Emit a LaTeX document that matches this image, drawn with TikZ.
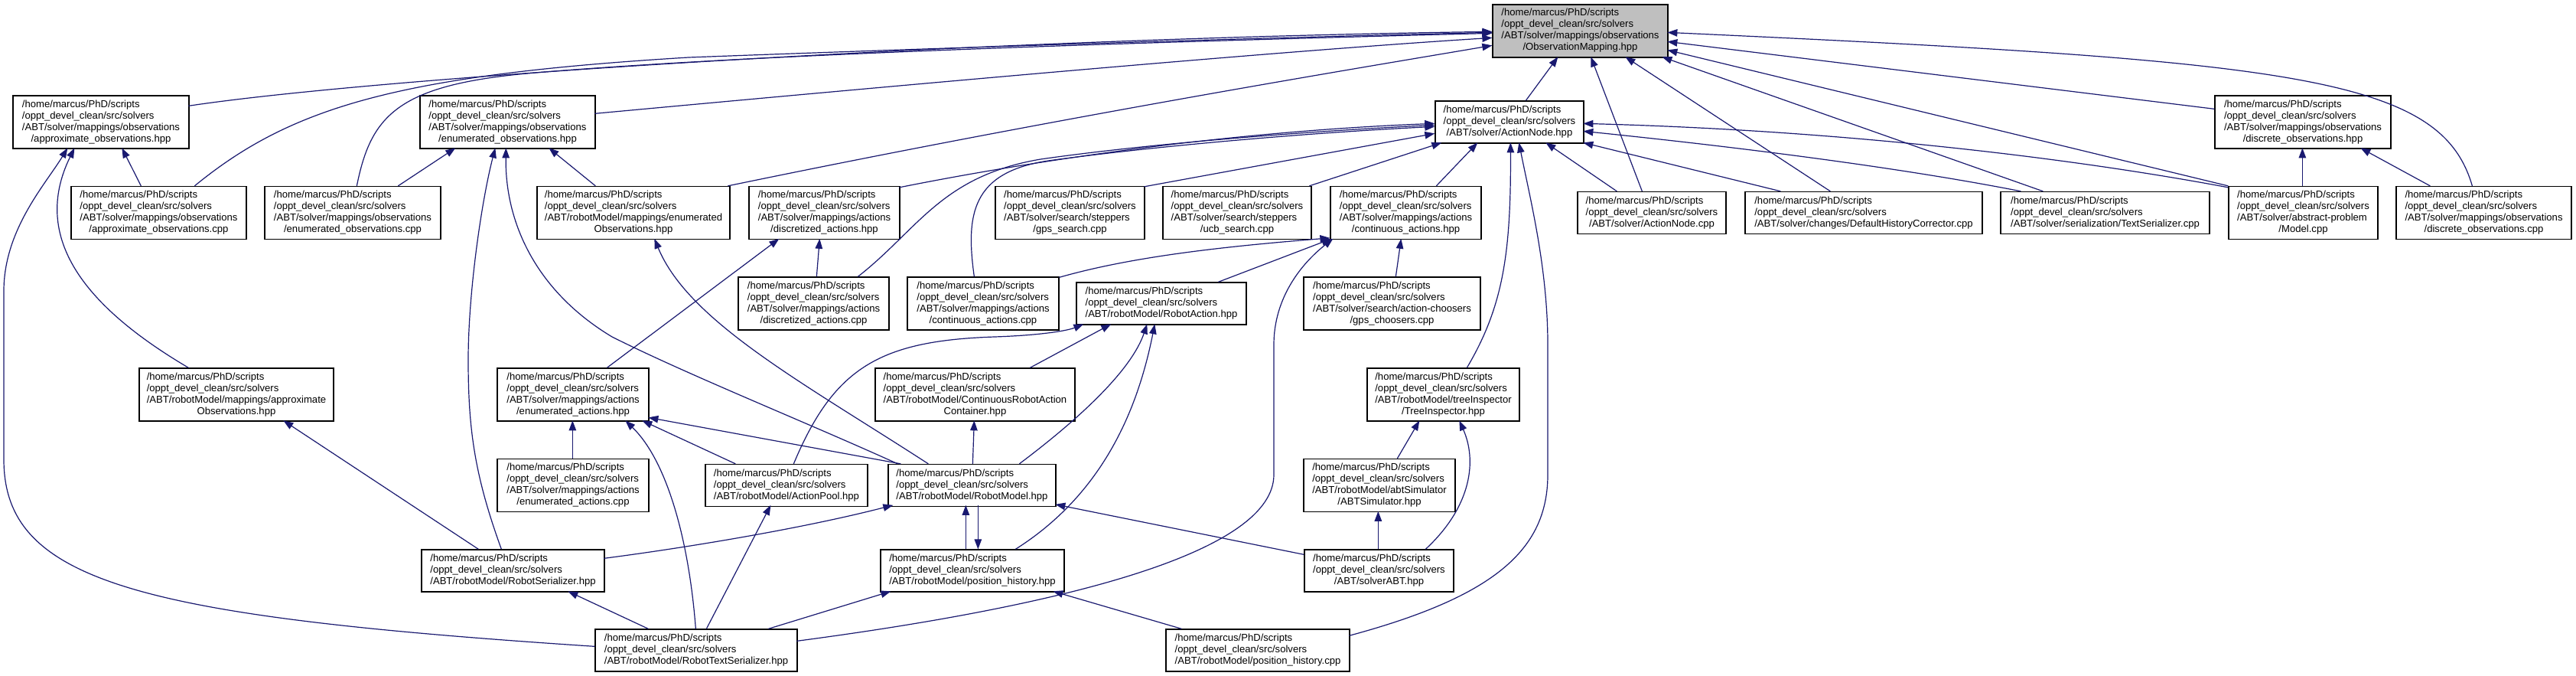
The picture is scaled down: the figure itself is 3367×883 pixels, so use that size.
\documentclass[tikz,border=0pt]{standalone}
\usepackage{fontspec}
\setmainfont{Liberation Sans}
\usetikzlibrary{calc,arrows.meta}
\definecolor{mblue}{HTML}{191970}
\definecolor{omgray}{HTML}{BFBFBF}
\newcommand{\nlbl}[2]{\begin{tabular}{@{}l@{}}#1\\\multicolumn{1}{@{}c@{}}{#2}\end{tabular}}
\newcommand{\hmp}{/home/marcus/PhD/scripts\\/oppt\_devel\_clean/src/solvers}
\tikzset{
 box/.style={draw=black, line width=1.3pt, fill=white, inner sep=0pt, font=\fontsize{13.1}{15}\selectfont},
 e/.style={draw=mblue, line width=1.2pt, -{Triangle[length=13pt,width=9.5pt]}},
}
\begin{document}
\begin{tikzpicture}[x=1pt,y=-1pt]
\fill[white] (0,0) rectangle (3367,883);
\useasboundingbox (0,0) rectangle (3367,883);
% row 1
\node[box,fill=omgray,minimum width=229pt,minimum height=69pt] (OM) at (2065.5,40.5) {\nlbl{\hmp\\/ABT/solver/mappings/observations}{/ObservationMapping.hpp}};
% row 2
\node[box,minimum width=230pt,minimum height=69pt] (AOh) at (132,159.5) {\nlbl{\hmp\\/ABT/solver/mappings/observations}{/approximate\_observations.hpp}};
\node[box,minimum width=229pt,minimum height=69pt] (EOh) at (663.5,159.5) {\nlbl{\hmp\\/ABT/solver/mappings/observations}{/enumerated\_observations.hpp}};
\node[box,minimum width=194pt,minimum height=55pt] (AN) at (1973,159.5) {\nlbl{\hmp}{/ABT/solver/ActionNode.hpp}};
\node[box,minimum width=230pt,minimum height=69pt] (DOh) at (3010,159.5) {\nlbl{\hmp\\/ABT/solver/mappings/observations}{/discrete\_observations.hpp}};
% row 3
\node[box,minimum width=229pt,minimum height=69pt] (AOc) at (207.5,278) {\nlbl{\hmp\\/ABT/solver/mappings/observations}{/approximate\_observations.cpp}};
\node[box,minimum width=230pt,minimum height=69pt] (EOc) at (461,278) {\nlbl{\hmp\\/ABT/solver/mappings/observations}{/enumerated\_observations.cpp}};
\node[box,minimum width=252pt,minimum height=69pt] (EORM) at (828,278) {\nlbl{\hmp\\/ABT/robotModel/mappings/enumerated}{Observations.hpp}};
\node[box,minimum width=197pt,minimum height=69pt] (DAh) at (1077.5,278) {\nlbl{\hmp\\/ABT/solver/mappings/actions}{/discretized\_actions.hpp}};
\node[box,minimum width=195pt,minimum height=69pt] (GS) at (1398.5,278) {\nlbl{\hmp\\/ABT/solver/search/steppers}{/gps\_search.cpp}};
\node[box,minimum width=194pt,minimum height=69pt] (UCB) at (1617,278) {\nlbl{\hmp\\/ABT/solver/search/steppers}{/ucb\_search.cpp}};
\node[box,minimum width=197pt,minimum height=69pt] (CA) at (1837.5,278) {\nlbl{\hmp\\/ABT/solver/mappings/actions}{/continuous\_actions.hpp}};
\node[box,minimum width=194pt,minimum height=55pt] (ANc) at (2159,278) {\nlbl{\hmp}{/ABT/solver/ActionNode.cpp}};
\node[box,minimum width=310pt,minimum height=55pt] (DHC) at (2436,278) {\nlbl{\hmp}{/ABT/solver/changes/DefaultHistoryCorrector.cpp}};
\node[box,minimum width=273pt,minimum height=55pt] (TS) at (2751.5,278) {\nlbl{\hmp}{/ABT/solver/serialization/TextSerializer.cpp}};
\node[box,minimum width=195pt,minimum height=69pt] (MC) at (3010.5,278) {\nlbl{\hmp\\/ABT/solver/abstract-problem}{/Model.cpp}};
\node[box,minimum width=229pt,minimum height=69pt] (DOc) at (3246.5,278) {\nlbl{\hmp\\/ABT/solver/mappings/observations}{/discrete\_observations.cpp}};
% row 4
\node[box,minimum width=197pt,minimum height=69pt] (DAc) at (1063.5,396.5) {\nlbl{\hmp\\/ABT/solver/mappings/actions}{/discretized\_actions.cpp}};
\node[box,minimum width=198pt,minimum height=69pt] (CAc) at (1285,396.5) {\nlbl{\hmp\\/ABT/solver/mappings/actions}{/continuous\_actions.cpp}};
\node[box,minimum width=222pt,minimum height=55pt] (RA) at (1518,396.5) {\nlbl{\hmp}{/ABT/robotModel/RobotAction.hpp}};
\node[box,minimum width=231pt,minimum height=69pt] (GC) at (1819.5,396.5) {\nlbl{\hmp\\/ABT/solver/search/action-choosers}{/gps\_choosers.cpp}};
% row 5
\node[box,minimum width=254pt,minimum height=69pt] (AORM) at (309,515.5) {\nlbl{\hmp\\/ABT/robotModel/mappings/approximate}{Observations.hpp}};
\node[box,minimum width=198pt,minimum height=69pt] (EAh) at (749,515.5) {\nlbl{\hmp\\/ABT/solver/mappings/actions}{/enumerated\_actions.hpp}};
\node[box,minimum width=261pt,minimum height=69pt] (CRAC) at (1274.5,515.5) {\nlbl{\hmp\\/ABT/robotModel/ContinuousRobotAction}{Container.hpp}};
\node[box,minimum width=199pt,minimum height=69pt] (TI) at (1886.5,515.5) {\nlbl{\hmp\\/ABT/robotModel/treeInspector}{/TreeInspector.hpp}};
% row 6
\node[box,minimum width=198pt,minimum height=69pt] (EAc) at (749,634) {\nlbl{\hmp\\/ABT/solver/mappings/actions}{/enumerated\_actions.cpp}};
\node[box,minimum width=212pt,minimum height=55pt] (AP) at (1028,634) {\nlbl{\hmp}{/ABT/robotModel/ActionPool.hpp}};
\node[box,minimum width=219pt,minimum height=55pt] (RM) at (1270.5,634) {\nlbl{\hmp}{/ABT/robotModel/RobotModel.hpp}};
\node[box,minimum width=198pt,minimum height=69pt] (ABTS) at (1803,634) {\nlbl{\hmp\\/ABT/robotModel/abtSimulator}{/ABTSimulator.hpp}};
% row 7
\node[box,minimum width=239pt,minimum height=55pt] (RS) at (670.5,745.5) {\nlbl{\hmp}{/ABT/robotModel/RobotSerializer.hpp}};
\node[box,minimum width=240pt,minimum height=55pt] (PH) at (1271,745.5) {\nlbl{\hmp}{/ABT/robotModel/position\_history.hpp}};
\node[box,minimum width=195pt,minimum height=55pt] (SA) at (1802.5,745.5) {\nlbl{\hmp}{/ABT/solverABT.hpp}};
% row 8
\node[box,minimum width=264pt,minimum height=55pt] (RTS) at (910,849.5) {\nlbl{\hmp}{/ABT/robotModel/RobotTextSerializer.hpp}};
\node[box,minimum width=240pt,minimum height=55pt] (PHc) at (1644,849.5) {\nlbl{\hmp}{/ABT/robotModel/position\_history.cpp}};

% ---- edges to ObservationMapping
\draw[e] ($(AOh.north west)+(230,14)$) .. controls (500,100) and (1300,50) .. ($(OM.north west)+(0,36)$);
\draw[e] ($(AOc.north west)+(162,0)$) .. controls (380,140) and (520,98) .. (900,75) .. controls (1300,60) and (1700,48) .. ($(OM.north west)+(0,37)$);
\draw[e] ($(EOc.north west)+(121,0)$) .. controls (485,150) and (520,110) .. (700,95) .. controls (1000,70) and (1500,55) .. ($(OM.north west)+(0,38)$);
\draw[e] ($(EOh.north west)+(229,24)$) .. controls (1300,100) and (1700,65) .. ($(OM.north west)+(0,44)$);
\draw[e] ($(EORM.north west)+(250,0)$) .. controls (1400,150) and (1800,85) .. ($(OM.north west)+(0,54)$);
\draw[e] ($(AN.north west)+(119,0)$) -- ($(OM.north west)+(86,69)$);
\draw[e] ($(ANc.north west)+(85,0)$) -- ($(OM.north west)+(129,69)$);
\draw[e] ($(DHC.north west)+(112,0)$) -- ($(OM.north west)+(174,69)$);
\draw[e] ($(TS.north west)+(56,0)$) -- ($(OM.north west)+(222,69)$);
\draw[e] ($(MC.north west)+(0,0)$) -- ($(OM.north west)+(229,60)$);
\draw[e] ($(DOh.north west)+(0,18)$) -- ($(OM.north west)+(229,49)$);
\draw[e] ($(DOc.north west)+(100,0)$) .. controls (3190,100) and (3000,80) .. ($(OM.north west)+(229,37)$);

% ---- edges to ActionNode.hpp
\draw[e] ($(DAh.north west)+(197,2)$) .. controls (1400,200) and (1650,170) .. ($(AN.north west)+(0,30)$);
\draw[e] ($(DAc.north west)+(157,0)$) .. controls (1200,300) and (1230,230) .. (1360,208) .. controls (1500,188) and (1700,172) .. ($(AN.north west)+(0,32)$);
\draw[e] ($(CAc.north west)+(88,0)$) .. controls (1262,280) and (1270,225) .. (1370,210) .. controls (1500,192) and (1700,174) .. ($(AN.north west)+(0,34)$);
\draw[e] ($(GS.north west)+(195,1)$) -- ($(AN.north west)+(0,43)$);
\draw[e] ($(UCB.north west)+(192,0)$) -- ($(AN.north west)+(9,55)$);
\draw[e] ($(CA.north west)+(139,0)$) -- ($(AN.north west)+(56,55)$);
\draw[e] ($(TI.north west)+(131,0)$) .. controls (1965,400) and (1975,330) .. ($(AN.north west)+(99,55)$);
\draw[e] ($(PHc.north west)+(240,9)$) .. controls (1950,780) and (2023,720) .. (2023,620) -- (2023,450) .. controls (2023,350) and (2000,260) .. ($(AN.north west)+(110,55)$);
\draw[e] ($(ANc.north west)+(52,0)$) -- ($(AN.north west)+(145,55)$);
\draw[e] ($(DHC.north west)+(47,0)$) -- ($(AN.north west)+(194,55)$);
\draw[e] ($(TS.north west)+(27,0)$) .. controls (2500,222) and (2300,195) .. ($(AN.north west)+(194,40)$);
\draw[e] ($(MC.north west)+(0,2)$) .. controls (2700,205) and (2400,170) .. ($(AN.north west)+(194,30)$);

% ---- edges to continuous_actions.hpp
\draw[e] ($(GC.north west)+(121,0)$) -- ($(CA.north west)+(93,69)$);
\draw[e] ($(CAc.north west)+(199,1)$) .. controls (1480,335) and (1600,322) .. ($(CA.north west)+(0,68)$);
\draw[e] ($(RA.north west)+(186,0)$) -- ($(CA.north west)+(2,69)$);
\draw[e] ($(RTS.north west)+(264,16)$) .. controls (1400,790) and (1665,720) .. (1665,620) -- (1665,450) .. controls (1665,390) and (1700,345) .. ($(CA.north west)+(4,69)$);

% ---- discretized_actions.hpp
\draw[e] ($(DAc.north west)+(103,0)$) -- ($(DAh.north west)+(93,69)$);
\draw[e] ($(EAh.north west)+(144,0)$) -- ($(DAh.north west)+(40,69)$);

% ---- enumerated_observations.hpp
\draw[e] ($(EOc.north west)+(175,0)$) -- ($(EOh.north west)+(47,69)$);
\draw[e] ($(EORM.north west)+(77,0)$) -- ($(EOh.north west)+(169,69)$);
\draw[e] ($(RS.north west)+(105,0)$) .. controls (620,620) and (612,560) .. (612,470) .. controls (612,380) and (630,260) .. ($(EOh.north west)+(99,69)$);
\draw[e] ($(RM.north west)+(13,0)$) .. controls (1050,550) and (900,490) .. (800,440) .. controls (700,380) and (660,290) .. ($(EOh.north west)+(113,69)$);

% ---- approximate_observations.hpp
\draw[e] ($(AOc.north west)+(92,0)$) -- ($(AOh.north west)+(143,69)$);
\draw[e] ($(AORM.north west)+(65,0)$) .. controls (110,400) and (40,310) .. ($(AOh.north west)+(81,69)$);
\draw[e] ($(RTS.north west)+(0,23)$) .. controls (180,805) and (5,760) .. (5,600) -- (5,380) .. controls (5,300) and (60,240) .. ($(AOh.north west)+(72,69)$);

% ---- approximateObservations (robotModel)
\draw[e] ($(RS.north west)+(75,0)$) -- ($(AORM.north west)+(189,69)$);

% ---- enumerated_actions.hpp
\draw[e] ($(EAc.north west)+(99,0)$) -- ($(EAh.north west)+(99,69)$);
\draw[e] ($(RTS.north west)+(132,0)$) .. controls (900,700) and (870,600) .. ($(EAh.north west)+(168,69)$);
\draw[e] ($(AP.north west)+(40,0)$) -- ($(EAh.north west)+(190,69)$);
\draw[e] ($(RM.north west)+(17,0)$) -- ($(EAh.north west)+(198,65)$);

% ---- RobotSerializer / RobotModel / position_history
\draw[e] ($(RTS.north west)+(70,0)$) -- ($(RS.north west)+(192,55)$);
\draw[e] ($(RS.north west)+(239,12)$) .. controls (900,715) and (1050,690) .. ($(RM.north west)+(7,54)$);
\draw[e] ($(PH.north west)+(112,0)$) -- ($(RM.north west)+(102,54)$);
\draw[e] ($(RM.north west)+(118,54)$) -- ($(PH.north west)+(128,0)$);
\draw[e] ($(SA.north west)+(0,7)$) -- ($(RM.north west)+(219,53)$);

% ---- RobotModel outgoing
\draw[e] ($(RM.north west)+(53,0)$) .. controls (1050,500) and (900,420) .. ($(EORM.north west)+(154,69)$);
\draw[e] ($(RM.north west)+(111,0)$) -- ($(CRAC.north west)+(130,69)$);
\draw[e] ($(RM.north west)+(172,0)$) .. controls (1420,540) and (1480,480) .. ($(RA.north west)+(93,55)$);

% ---- ActionPool
\draw[e] ($(AP.north west)+(116,0)$) .. controls (1090,480) and (1150,445) .. (1300,440) .. controls (1360,438) and (1395,432) .. ($(RA.north west)+(10,55)$);
\draw[e] ($(RTS.north west)+(146,0)$) -- ($(AP.north west)+(86,54)$);

% ---- RobotAction others
\draw[e] ($(CRAC.north west)+(203,0)$) -- ($(RA.north west)+(46,55)$);
\draw[e] ($(PH.north west)+(177,0)$) .. controls (1450,640) and (1490,520) .. ($(RA.north west)+(103,55)$);

% ---- position_history.hpp
\draw[e] ($(RTS.north west)+(227,0)$) -- ($(PH.north west)+(14,55)$);
\draw[e] ($(PHc.north west)+(21,0)$) -- ($(PH.north west)+(226,55)$);

% ---- TreeInspector / ABTSimulator
\draw[e] ($(ABTS.north west)+(123,0)$) -- ($(TI.north west)+(69,69)$);
\draw[e] ($(SA.north west)+(159,0)$) .. controls (1925,660) and (1930,600) .. ($(TI.north west)+(121,69)$);
\draw[e] ($(SA.north west)+(97,0)$) -- ($(ABTS.north west)+(98,69)$);

% ---- discrete_observations.hpp
\draw[e] ($(MC.north west)+(97,0)$) -- ($(DOh.north west)+(115,69)$);
\draw[e] ($(DOc.north west)+(45,0)$) -- ($(DOh.north west)+(191,69)$);
\end{tikzpicture}
\end{document}
